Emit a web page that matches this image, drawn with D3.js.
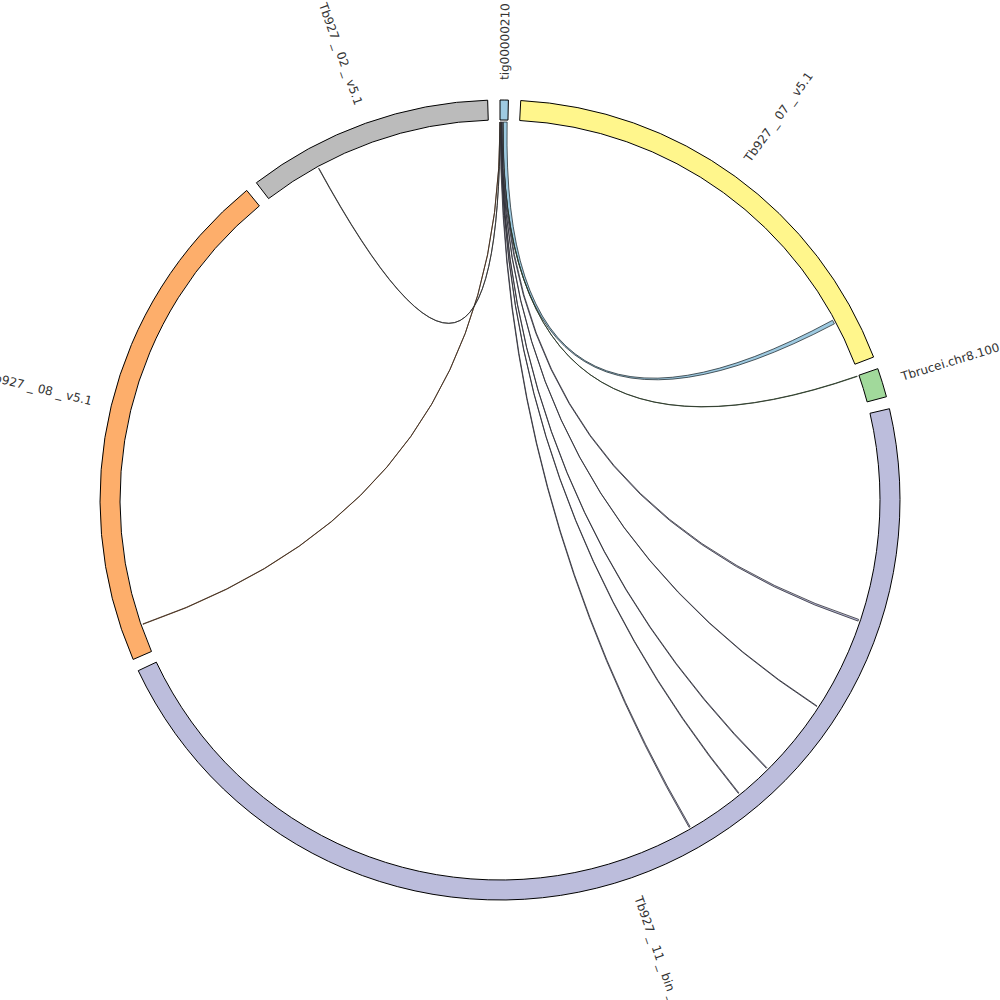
<!DOCTYPE html>
<html>
<head>
<meta charset="utf-8">
<script src="https://cdn.jsdelivr.net/npm/d3@7"></script>
<style>
  html, body { margin: 0; padding: 0; background: #fff; overflow: hidden; }
  svg { display: block; }
  text { font-family: "DejaVu Sans", sans-serif; font-size: 12px; fill: #333; }
</style>
</head>
<body>
<svg id="chart" width="1000" height="1000"></svg>
<script>
// Sequences (in Mb), drawn clockwise from 12 o'clock
const groupNames   = ["tig00000210", "Tb927_07_v5.1", "Tbrucei.chr8.100", "Tb927_11_bin_v5.1", "Tb927_08_v5.1", "Tb927_02_v5.1"];
const groupLengths = [0.04, 2.20, 0.14, 5.59, 2.47, 1.19];
const groupColors  = ["#9ecae1", "#fff68c", "#a1d99b", "#bcbddc", "#fdae6b", "#bbbbbb"];

// Alignments: tig00000210 segment -> target segment (Mb)
const linkSourceStart = [0.0160, 0.0135, 0.0085, 0.0070, 0.0055, 0.0040, 0.0010, 0.0005, 0.0000];
const linkSourceEnd   = [0.0360, 0.0145, 0.0135, 0.0085, 0.0070, 0.0055, 0.0040, 0.0010, 0.0005];
const linkTarget      = [1, 2, 3, 3, 3, 3, 3, 4, 5];
const linkTargetStart = [1.952, 0.0010, 1.052, 1.538, 1.940, 2.130, 2.430, 0.143, 0.294];
const linkTargetEnd   = [1.972, 0.0030, 1.061, 1.541, 1.944, 2.134, 2.436, 0.145, 0.296];
const linkColorGroup  = [0, 2, 3, 3, 3, 3, 3, 4, 5];

const W = 1000, H = 1000, cx = 500, cy = 500;
const outerR = 400, innerR = 380, ribbonR = 378;
const padDeg = 1.77;
const rad = d => d * Math.PI / 180;

const svg = d3.select("#chart");
const g = svg.append("g").attr("transform", `translate(${cx},${cy})`);

// Layout of groups
const total = d3.sum(groupLengths);
const degPerUnit = (360 - padDeg * groupLengths.length) / total;
let cur = 0;
const groups = groupNames.map((name, i) => {
  const start = cur;
  const end = start + groupLengths[i] * degPerUnit;
  cur = end + padDeg;
  const scale = d3.scaleLinear().domain([0, groupLengths[i]]).range([rad(start), rad(end)]);
  return { name, index: i, startAngle: rad(start), endAngle: rad(end), scale, color: groupColors[i] };
});

// Ribbons
const ribbon = d3.ribbon().radius(ribbonR);
const links = linkTarget.map((t, i) => ({
  source: { startAngle: groups[0].scale(linkSourceStart[i]), endAngle: groups[0].scale(linkSourceEnd[i]) },
  target: { startAngle: groups[t].scale(linkTargetStart[i]), endAngle: groups[t].scale(linkTargetEnd[i]) },
  color: groupColors[linkColorGroup[i]]
}));

g.append("g").selectAll("path").data(links).join("path")
  .attr("d", ribbon)
  .attr("fill", d => d.color)
  .attr("stroke", d => d3.rgb(d.color).darker(4))
  .attr("stroke-width", 0.8);

// Group arcs
const arc = d3.arc().innerRadius(innerR).outerRadius(outerR);
g.append("g").selectAll("path").data(groups).join("path")
  .attr("d", arc)
  .attr("fill", d => d.color)
  .attr("stroke", "#000")
  .attr("stroke-width", 1);

// Labels (radial); underscores are rendered with a little space around them
const labelR = 420;
g.append("g").selectAll("text").data(groups).join("text")
  .each(function(d) {
    const mid = (d.startAngle + d.endAngle) / 2;
    const deg = mid * 180 / Math.PI;
    const flip = deg > 180;
    const t = d3.select(this)
      .attr("transform", `rotate(${deg - 90}) translate(${labelR},0)` + (flip ? " rotate(180)" : ""))
      .attr("text-anchor", flip ? "end" : "start")
      .attr("dy", "0.35em");
    const parts = d.name.split("_");
    parts.forEach((p, k) => {
      if (k > 0) t.append("tspan").attr("dx", 4).text("_");
      t.append("tspan").attr("dx", k > 0 ? 4 : 0).text(p);
    });
  });
</script>
</body>
</html>
